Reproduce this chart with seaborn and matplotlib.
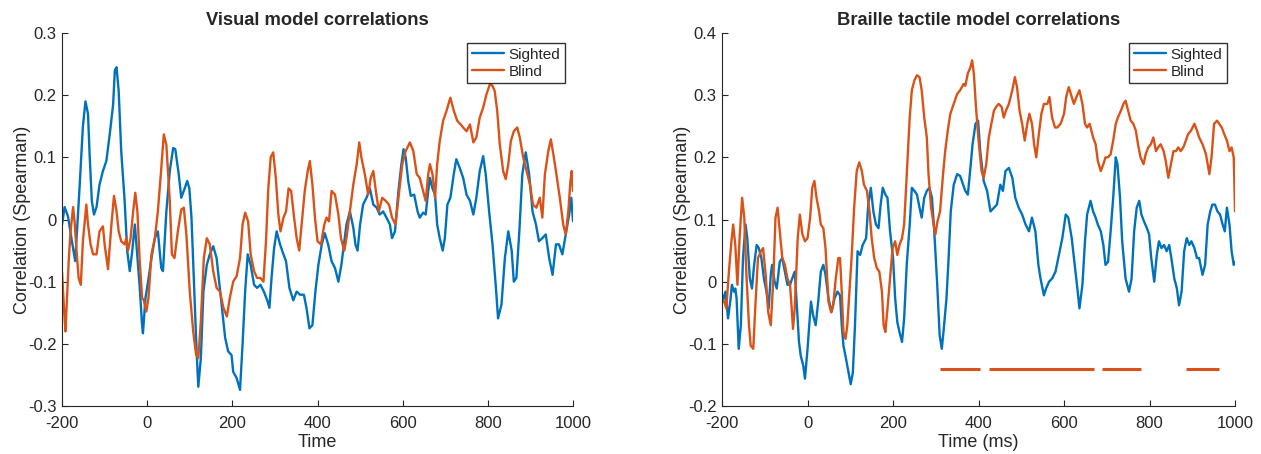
import numpy as np
import pandas as pd
import matplotlib.pyplot as plt
import seaborn as sns
from matplotlib.ticker import FuncFormatter

# ---- values: (time in ms, correlation) ----
# panel 1: visual model
vis_sighted = [
    (-200, -0.008), (-194, 0.02), (-186, 0.005), (-178, -0.03), (-169, -0.067), (-159, 0.05),
    (-151, 0.15), (-145, 0.19), (-139, 0.17), (-135, 0.10), (-130, 0.03), (-125, 0.008),
    (-119, 0.02), (-112, 0.056), (-104, 0.078), (-96, 0.094), (-88, 0.137), (-80, 0.185),
    (-76, 0.24), (-72, 0.245), (-67, 0.207), (-61, 0.11), (-53, 0.03), (-47, -0.05),
    (-41, -0.083), (-36, -0.056), (-29, -0.008), (-23, -0.06), (-18, -0.105), (-12, -0.17),
    (-10, -0.183), (-4, -0.126), (2, -0.1), (10, -0.062), (18, -0.03), (25, -0.019),
    (33, -0.078), (37, -0.083), (45, 0.013), (53, 0.078), (61, 0.115), (66, 0.113),
    (74, 0.073), (80, 0.035), (88, 0.05), (94, 0.062),
    (99, 0.05), (104, 0.003), (110, -0.105), (116, -0.212), (120, -0.269), (126, -0.223),
    (132, -0.116), (140, -0.073), (147, -0.056), (155, -0.043), (163, -0.062), (169, -0.1),
    (175, -0.137), (183, -0.19), (190, -0.212), (198, -0.218), (202, -0.245), (210, -0.255),
    (218, -0.274), (224, -0.2), (230, -0.116), (236, -0.056), (243, -0.073), (251, -0.105),
    (258, -0.11), (266, -0.105), (274, -0.116), (282, -0.13), (287, -0.142), (292, -0.094),
    (298, -0.046), (304, -0.019), (312, -0.04), (320, -0.056), (326, -0.067), (334, -0.11),
    (343, -0.13), (351, -0.116), (359, -0.121), (368, -0.121), (374, -0.142), (381, -0.175),
    (388, -0.17), (395, -0.116), (402, -0.073), (410, -0.04), (417, -0.022), (425, -0.04),
    (433, -0.067), (441, -0.078), (449, -0.1), (456, -0.073), (463, -0.035), (468, -0.008),
    (476, 0.013), (484, -0.013), (489, -0.04), (494, -0.05), (500, -0.008), (507, 0.024),
    (515, 0.035), (523, 0.05), (531, 0.024), (539, 0.019), (546, 0.008), (554, 0.013),
    (562, 0.003), (570, -0.008), (575, -0.03), (582, -0.019), (590, 0.046), (597, 0.089),
    (602, 0.113), (607, 0.1), (613, 0.062), (619, 0.038), (627, 0.04), (635, 0.013),
    (640, 0.003), (648, 0.011), (654, 0.008), (660, 0.046),
    (664, 0.067), (670, 0.05), (676, 0.04), (681, -0.008), (687, -0.03), (694, -0.05),
    (699, -0.03), (705, 0.024), (712, 0.035), (720, 0.073), (726, 0.097), (734, 0.083),
    (742, 0.067), (750, 0.04), (758, 0.03), (766, 0.008), (773, 0.035), (781, 0.078),
    (789, 0.102), (795, 0.073), (803, 0.013), (811, -0.04), (819, -0.11), (824, -0.159),
    (832, -0.137), (840, -0.062), (848, -0.019), (856, -0.05), (861, -0.1), (867, -0.094),
    (874, -0.019), (881, 0.073), (889, 0.108), (897, 0.073), (905, 0.013), (913, -0.008),
    (920, -0.035), (928, -0.03), (936, -0.024), (944, -0.062), (952, -0.089), (960, -0.04),
    (967, -0.04), (975, -0.056), (983, -0.024), (991, 0.008), (996, 0.035), (1000, -0.003),
]

vis_blind = [
    (-200, -0.085), (-195, -0.148), (-192, -0.18), (-189, -0.137), (-184, -0.062), (-180, -0.019),
    (-174, 0.02), (-170, -0.008), (-166, -0.05), (-161, -0.094), (-156, -0.105), (-151, -0.035),
    (-143, 0.024), (-139, -0.008), (-133, -0.04), (-127, -0.056), (-119, -0.056), (-112, -0.019),
    (-104, -0.011), (-100, -0.04), (-92, -0.08), (-84, -0.008), (-78, 0.038), (-72, 0.013),
    (-67, -0.019), (-61, -0.035), (-53, -0.04), (-49, -0.03), (-45, -0.05), (-39, -0.03),
    (-33, 0.013), (-28, 0.043), (-23, 0.013), (-18, -0.062), (-12, -0.126), (-8, -0.13),
    (-2, -0.148), (3, -0.126), (10, -0.056), (18, -0.03), (25, 0.013), (32, 0.073),
    (39, 0.137), (45, 0.12), (53, 0.03), (58, -0.056), (64, -0.062), (72, -0.019),
    (80, 0.016), (86, 0.019), (92, -0.024),
    (100, -0.116), (108, -0.18), (115, -0.218), (120, -0.223), (126, -0.164), (133, -0.062),
    (140, -0.03), (147, -0.04), (155, -0.083), (163, -0.11), (171, -0.116), (179, -0.142),
    (187, -0.156), (194, -0.126), (202, -0.1), (210, -0.091), (218, -0.062), (224, -0.008),
    (230, 0.011), (237, -0.003), (243, -0.056), (251, -0.083), (258, -0.094), (266, -0.094),
    (273, -0.1), (279, -0.035), (284, 0.046), (290, 0.1), (296, 0.108), (302, 0.067),
    (308, 0.008), (313, -0.019), (320, 0.003), (326, 0.013), (332, 0.05), (338, 0.046),
    (345, 0.003), (351, -0.03), (357, -0.05), (365, 0.008),
    (370, 0.046), (377, 0.078), (382, 0.094), (388, 0.056), (394, 0.003), (400, -0.035),
    (408, -0.04), (416, -0.008), (421, 0.003), (427, -0.003), (433, 0.046), (441, 0.04),
    (449, 0.008), (455, -0.03), (463, -0.05), (468, -0.03), (476, 0.013), (484, 0.056),
    (492, 0.089), (498, 0.124), (503, 0.1), (511, 0.073), (519, 0.04), (525, 0.067),
    (531, 0.078), (537, 0.046), (544, 0.013), (552, 0.035), (560, 0.03), (568, 0.024),
    (575, 0.003), (583, -0.008), (591, 0.04), (599, 0.089), (607, 0.11), (617, 0.124),
    (625, 0.11), (633, 0.073), (640, 0.067), (648, 0.046), (654, 0.03), (660, 0.073),
    (664, 0.089), (670, 0.073), (676, 0.035), (681, 0.089), (687, 0.126), (695, 0.159),
    (703, 0.175), (712, 0.196), (720, 0.175), (728, 0.159), (736, 0.153), (742, 0.148),
    (750, 0.142), (758, 0.153), (766, 0.124), (773, 0.132), (781, 0.164), (789, 0.18),
    (797, 0.202), (805, 0.218), (811, 0.215), (816, 0.207), (822, 0.175), (828, 0.121),
    (836, 0.078), (842, 0.065), (848, 0.089), (854, 0.126), (861, 0.142), (869, 0.148),
    (875, 0.132), (883, 0.1), (891, 0.078), (899, 0.056), (906, 0.024), (914, 0.019),
    (922, 0.035), (928, 0.003), (934, 0.073), (942, 0.11), (948, 0.129), (955, 0.1),
    (961, 0.073), (969, 0.035), (977, -0.008), (983, -0.024), (989, 0.013), (994, 0.062),
    (997, 0.078), (1000, 0.046),
]

# panel 2: braille tactile model
tac_sighted = [
    (-200, -0.02), (-198, -0.032), (-192, -0.016), (-186, -0.059), (-180, -0.027), (-177, -0.005),
    (-172, -0.016), (-169, -0.011), (-166, -0.027), (-161, -0.108), (-156, -0.07), (-151, 0.038),
    (-145, 0.092), (-141, 0.07), (-135, 0.005), (-130, -0.011), (-125, 0.027), (-119, 0.059),
    (-114, 0.054), (-108, 0.038), (-102, 0.005), (-96, -0.016), (-91, -0.043), (-86, 0.011),
    (-83, 0.027), (-77, 0.0), (-72, -0.011), (-65, 0.032), (-59, 0.038), (-53, 0.016),
    (-47, -0.005), (-41, -0.005), (-36, 0.005), (-30, 0.016), (-26, -0.027), (-20, -0.097),
    (-16, -0.119), (-10, -0.135), (-6, -0.156), (0, -0.108), (8, -0.032), (13, -0.054),
    (19, -0.07), (25, -0.032), (31, 0.016), (37, 0.027), (42, 0.011), (49, -0.027),
    (56, -0.049), (63, -0.027), (70, -0.016),
    (76, -0.022), (80, -0.07), (84, -0.103), (90, -0.124), (96, -0.146), (101, -0.165),
    (106, -0.146), (111, -0.07), (117, 0.049), (123, 0.043), (129, 0.059), (137, 0.07),
    (142, 0.124), (148, 0.151), (154, 0.113), (160, 0.092), (166, 0.086), (171, 0.124),
    (176, 0.151), (182, 0.14), (187, 0.135), (193, 0.081), (200, 0.038), (205, -0.027),
    (210, -0.065), (215, -0.081), (221, -0.097), (226, -0.059), (232, 0.027), (239, 0.092),
    (244, 0.151), (250, 0.146), (256, 0.14), (262, 0.119), (267, 0.103), (273, 0.135),
    (279, 0.146), (285, 0.151), (291, 0.135), (296, 0.086), (303, 0.0), (309, -0.086),
    (314, -0.108), (318, -0.081), (325, -0.027), (330, 0.038), (335, 0.113), (342, 0.156),
    (350, 0.173), (357, 0.17), (364, 0.156),
    (369, 0.146), (375, 0.14), (381, 0.183), (386, 0.221), (393, 0.254), (399, 0.259),
    (404, 0.21), (412, 0.162), (420, 0.146), (428, 0.113), (436, 0.119), (443, 0.124),
    (451, 0.156), (457, 0.146), (463, 0.178), (471, 0.183), (479, 0.167), (486, 0.135),
    (494, 0.119), (502, 0.108), (510, 0.092), (518, 0.081), (525, 0.103), (533, 0.081),
    (540, 0.027), (545, 0.005), (553, -0.022), (558, -0.011), (565, 0.0), (572, 0.005),
    (580, 0.016), (588, 0.043), (596, 0.07), (604, 0.108), (610, 0.103), (618, 0.07),
    (625, 0.027), (632, -0.016), (636, -0.043), (643, -0.005), (649, 0.065), (654, 0.108),
    (662, 0.13), (668, 0.113), (674, 0.103), (679, 0.092), (686, 0.081), (692, 0.059),
    (697, 0.027), (703, 0.032), (709, 0.081), (715, 0.135), (721, 0.2), (725, 0.189),
    (731, 0.135), (736, 0.065), (744, 0.005), (752, -0.016), (758, 0.005), (764, 0.081),
    (770, 0.119), (776, 0.13), (781, 0.108), (787, 0.097), (794, 0.086), (799, 0.076),
    (804, 0.038), (811, 0.0), (817, 0.043), (822, 0.065), (828, 0.054), (834, 0.059),
    (840, 0.049), (846, 0.059), (851, 0.038), (858, 0.005), (864, -0.011), (869, -0.038),
    (875, -0.016), (881, 0.049), (887, 0.07), (893, 0.059), (898, 0.065), (905, 0.054),
    (911, 0.038), (916, 0.038), (924, 0.011), (930, 0.027), (936, 0.092), (942, 0.113),
    (947, 0.124), (953, 0.124), (959, 0.113), (965, 0.108), (971, 0.092), (976, 0.081),
    (981, 0.119), (987, 0.092), (992, 0.049), (997, 0.027), (1000, 0.032),
]

tac_blind = [
    (-200, -0.03), (-195, -0.032), (-190, -0.043), (-184, 0.016), (-178, 0.065), (-174, 0.092),
    (-169, 0.059), (-164, -0.005), (-159, 0.07), (-153, 0.135), (-148, 0.103), (-143, 0.011),
    (-137, -0.07), (-133, -0.103), (-127, -0.108), (-122, -0.038), (-116, 0.038), (-109, 0.049),
    (-104, 0.054), (-98, 0.011), (-92, -0.049), (-86, -0.07), (-80, 0.005), (-75, 0.103),
    (-70, 0.119), (-65, 0.081), (-59, 0.038), (-53, 0.027), (-47, 0.005), (-41, -0.005),
    (-37, -0.043), (-34, -0.076), (-30, -0.043), (-23, 0.07), (-18, 0.108), (-12, 0.076),
    (-6, 0.065), (0, 0.07), (6, 0.103), (11, 0.151), (16, 0.162), (21, 0.135),
    (27, 0.113), (31, 0.092), (37, 0.086), (42, 0.054), (49, -0.032), (55, -0.049),
    (60, -0.038), (66, 0.005), (72, 0.038),
    (76, 0.038), (80, -0.016), (84, -0.081), (89, -0.092), (93, -0.07), (98, -0.016),
    (103, 0.038), (109, 0.119), (115, 0.178), (121, 0.192), (127, 0.178), (132, 0.156),
    (139, 0.146), (145, 0.113), (150, 0.07), (156, 0.038), (162, 0.022), (168, 0.016),
    (174, -0.016), (178, -0.07), (182, -0.081), (187, -0.043), (193, 0.005), (199, 0.054),
    (205, 0.065), (210, 0.043), (215, 0.059), (221, 0.07), (226, 0.092), (232, 0.173),
    (239, 0.264), (244, 0.308), (250, 0.324), (256, 0.332), (262, 0.329), (267, 0.308),
    (273, 0.264), (279, 0.232), (283, 0.173), (289, 0.119), (295, 0.092), (299, 0.076),
    (304, 0.097), (310, 0.113), (317, 0.173), (322, 0.21), (328, 0.243), (334, 0.27),
    (342, 0.286), (350, 0.302), (357, 0.308), (365, 0.318),
    (369, 0.315), (375, 0.335), (381, 0.345), (385, 0.356), (389, 0.335), (394, 0.281),
    (400, 0.227), (407, 0.178), (412, 0.167), (418, 0.189), (424, 0.232), (430, 0.254),
    (436, 0.275), (441, 0.281), (447, 0.286), (454, 0.281), (459, 0.264), (464, 0.275),
    (471, 0.286), (479, 0.308), (485, 0.329), (490, 0.313), (496, 0.275), (502, 0.254),
    (508, 0.227), (514, 0.254), (519, 0.27), (525, 0.254), (530, 0.221), (535, 0.2),
    (541, 0.237), (547, 0.27), (553, 0.286), (561, 0.286), (566, 0.297), (572, 0.264),
    (579, 0.248), (584, 0.248), (592, 0.254), (600, 0.27), (605, 0.297), (611, 0.313),
    (618, 0.297), (623, 0.286), (629, 0.297), (636, 0.308), (643, 0.286), (649, 0.254),
    (654, 0.248), (660, 0.254),
    (668, 0.232), (674, 0.221), (679, 0.194), (686, 0.178), (692, 0.189), (697, 0.2),
    (703, 0.2), (709, 0.205), (715, 0.227), (721, 0.254), (726, 0.264), (733, 0.275),
    (739, 0.286), (744, 0.291), (750, 0.275), (756, 0.259), (762, 0.254), (768, 0.243),
    (773, 0.221), (779, 0.2), (786, 0.189), (791, 0.205), (797, 0.216), (803, 0.221),
    (809, 0.232), (815, 0.21), (820, 0.216), (826, 0.221), (833, 0.21), (838, 0.194),
    (844, 0.167), (850, 0.189), (856, 0.21), (862, 0.21), (867, 0.216), (873, 0.21),
    (879, 0.216), (885, 0.227), (890, 0.237), (897, 0.243), (905, 0.254), (911, 0.243),
    (916, 0.232), (924, 0.221), (932, 0.205), (940, 0.173), (945, 0.2), (951, 0.254),
    (958, 0.259), (963, 0.254), (969, 0.248), (975, 0.237), (981, 0.227), (987, 0.21),
    (992, 0.216), (997, 0.2), (1000, 0.113),
]

# significant time windows (blind, tactile model)
sig_start = [310, 424, 689, 885]
sig_end = [404, 671, 781, 963]
sig_level = -0.14

# ---- tidy tables ----
def make_table(sighted, blind):
    a = pd.DataFrame(sighted, columns=['time', 'corr'])
    a['group'] = 'Sighted'
    b = pd.DataFrame(blind, columns=['time', 'corr'])
    b['group'] = 'Blind'
    return pd.concat([a, b], ignore_index=True)

vis = make_table(vis_sighted, vis_blind)
tac = make_table(tac_sighted, tac_blind)

blue = '#0072BD'
orange = '#D95319'
axcol = '#262626'

sns.set_style('ticks')
plt.rcParams['font.family'] = ['Liberation Sans', 'DejaVu Sans']
plt.rcParams['axes.unicode_minus'] = False
plt.rcParams['xtick.direction'] = 'in'
plt.rcParams['ytick.direction'] = 'in'

fig = plt.figure(figsize=(12.61, 4.54), dpi=100)
ax1 = fig.add_axes([0.0492, 0.1057, 0.4052, 0.8216])
ax2 = fig.add_axes([0.5726, 0.1057, 0.4068, 0.8216])

fmt = FuncFormatter(lambda v, p: '%g' % round(v, 3))

def style(ax, df, title, xlabel, ylim, yticks):
    sns.lineplot(data=df, x='time', y='corr', hue='group', palette={'Sighted': blue, 'Blind': orange},
                 estimator=None, sort=False, linewidth=1.7, ax=ax)
    ax.set_xlim(-200, 1000)
    ax.set_ylim(*ylim)
    ax.set_xticks(np.arange(-200, 1001, 200))
    ax.set_yticks(yticks)
    ax.yaxis.set_major_formatter(fmt)
    ax.set_title(title, fontsize=13.2, fontweight='bold', pad=6)
    ax.set_xlabel(xlabel, fontsize=13, color=axcol, labelpad=2)
    ax.set_ylabel('Correlation (Spearman)', fontsize=13, color=axcol, labelpad=-2)
    ax.tick_params(labelsize=12, colors=axcol, length=4, width=0.8)
    ax.tick_params(axis='x', pad=7.5)
    ax.tick_params(axis='y', pad=4)
    for s in ['left', 'bottom']:
        ax.spines[s].set_color(axcol)
        ax.spines[s].set_linewidth(0.8)
    sns.despine(ax=ax)
    h, l = ax.get_legend_handles_labels()
    leg = ax.legend(h, l, loc='upper right', bbox_to_anchor=(1 - 8 / 511, 1 - 10 / 373),
                    borderaxespad=0, fontsize=11, frameon=True, fancybox=False,
                    edgecolor='black', handlelength=2.1, handletextpad=0.3,
                    labelspacing=0.2, borderpad=0.3)
    leg.get_frame().set_linewidth(1.0)

style(ax1, vis, 'Visual model correlations', 'Time', (-0.3, 0.3), np.arange(-0.3, 0.31, 0.1))
style(ax2, tac, 'Braille tactile model correlations', 'Time (ms)', (-0.2, 0.4),
      np.arange(-0.2, 0.41, 0.1))

ax2.hlines([sig_level] * len(sig_start), sig_start, sig_end, color=orange, linewidth=2.2)

fig.savefig('out.png', dpi=100)
